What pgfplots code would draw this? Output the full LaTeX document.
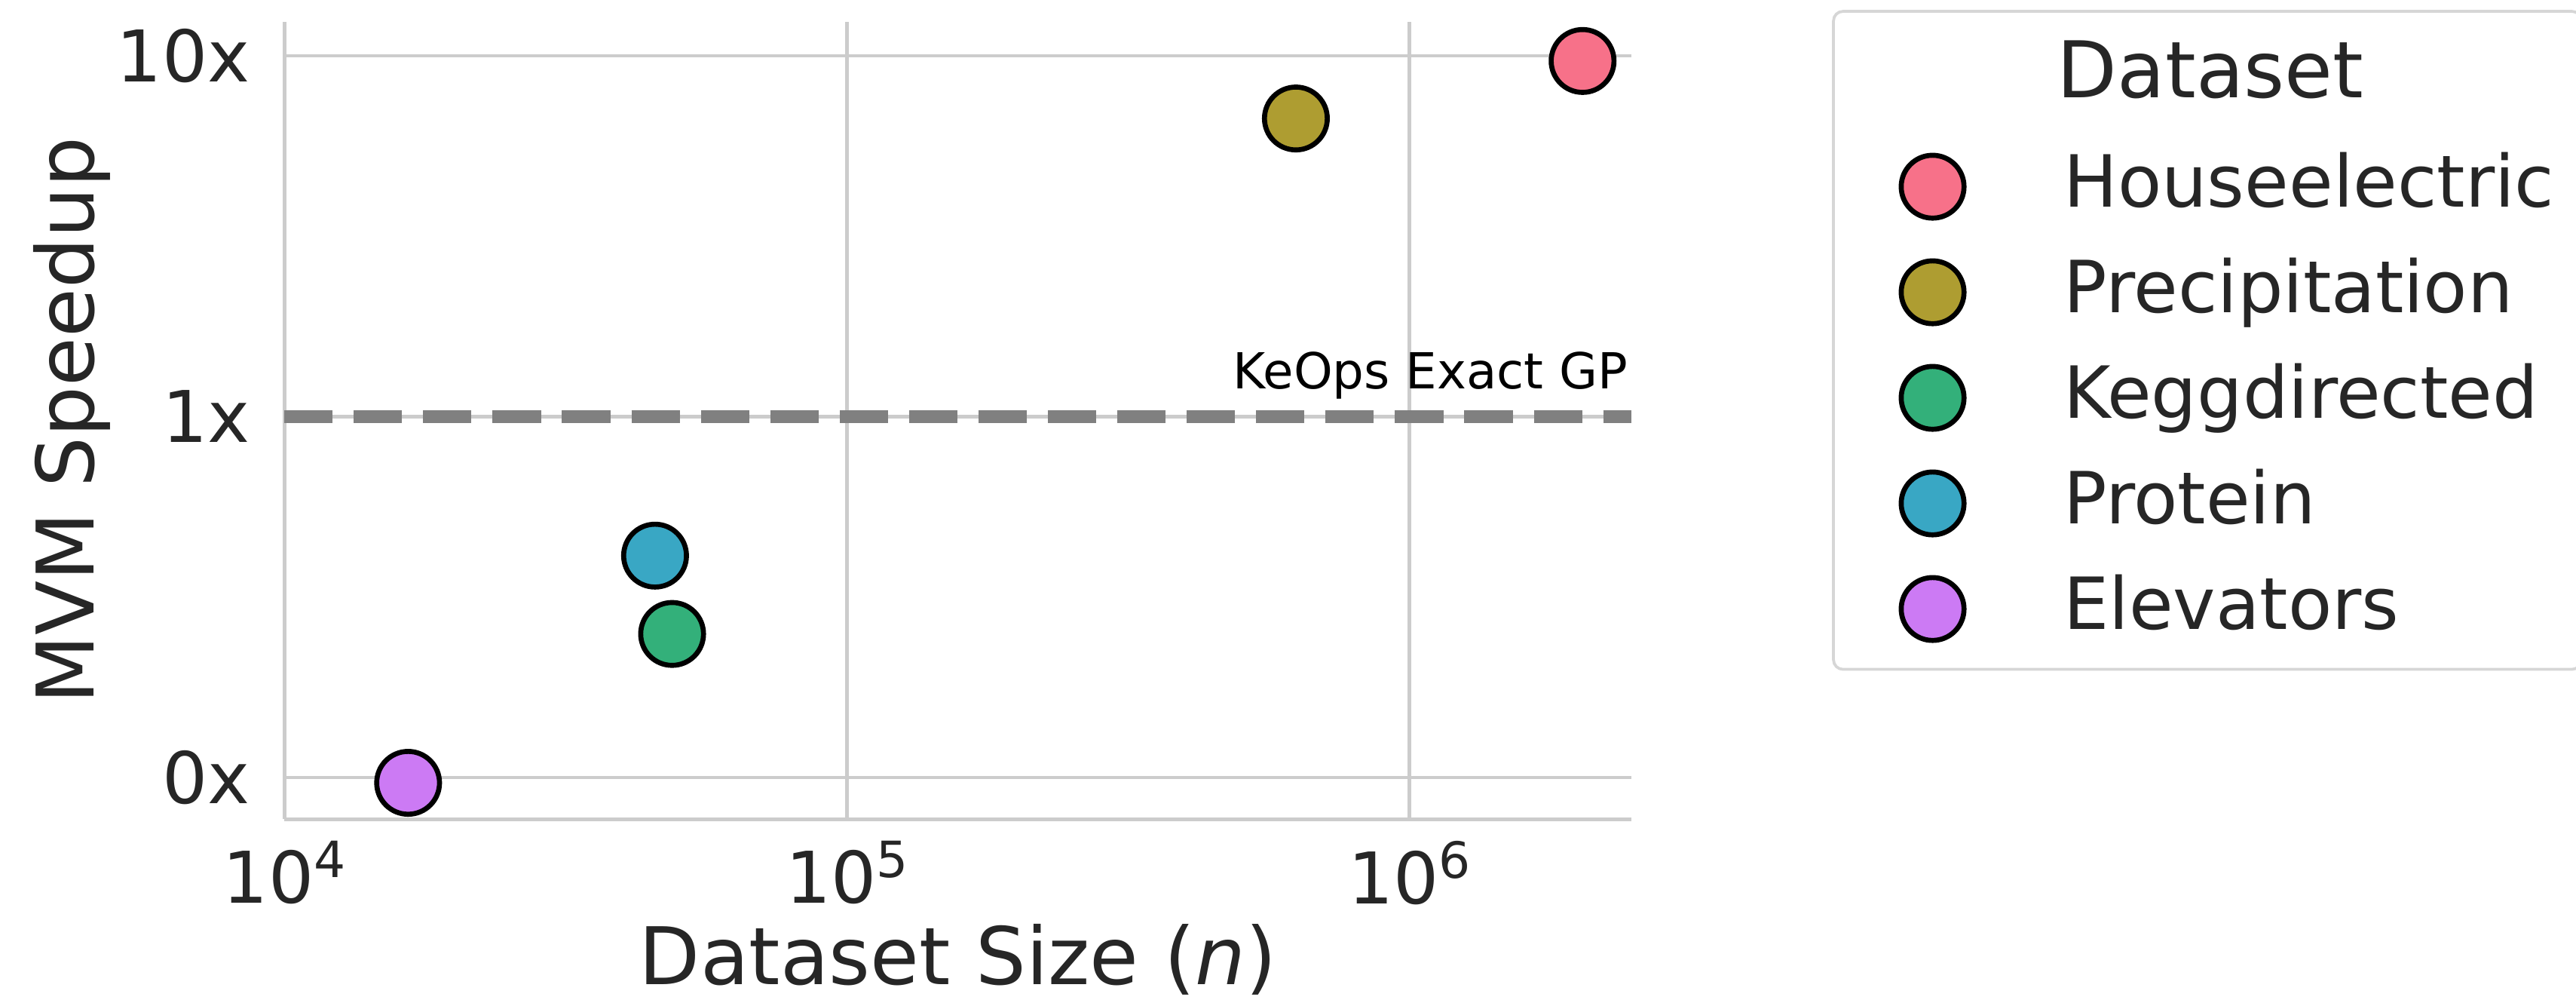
\documentclass[border=0pt]{standalone}
\usepackage{fontspec}
\setmainfont{DejaVu Sans}
\usepackage{pgfplots}
\pgfplotsset{compat=1.18}
\definecolor{cHouse}{HTML}{F77189}
\definecolor{cPrec}{HTML}{AE9D31}
\definecolor{cKegg}{HTML}{33B07A}
\definecolor{cProt}{HTML}{39A7C4}
\definecolor{cElev}{HTML}{CC7AF4}
\definecolor{gridc}{HTML}{CCCCCC}
\definecolor{legc}{HTML}{D6D6D6}
\definecolor{txt}{HTML}{262626}
\definecolor{refline}{HTML}{808080}
\newcommand\tenpow[1]{10\raisebox{8.3pt}{\fontsize{15.9}{16}\selectfont #1}}
\begin{document}
\begin{tikzpicture}
\useasboundingbox (-90.5pt,-58.3pt) rectangle (729.6pt,260.7pt);
\begin{axis}[
  at={(0,0)}, anchor=south west,
  scale only axis, width=428.9pt, height=253.7pt,
  xmode=log, ymode=log,
  xmin=1e4, xmax=2.48e6, ymin=0.0767, ymax=12.4,
  axis x line*=bottom, axis y line*=left,
  axis line style={draw=gridc, line width=1.2pt, -},
  grid=major, major grid style={draw=gridc, line width=1.1pt},
  major tick length=0pt, minor tick length=0pt,
  tick style={draw=none}, minor tick style={draw=none},
  xtick={1e4,1e5,1e6}, xticklabels={\tenpow{4},\tenpow{5},\tenpow{6}},
  ytick={0.1,1,10}, yticklabels={0x,1x,10x},
  tick label style={font=\fontsize{22.7}{27}\selectfont, text=txt},
  xticklabel style={anchor=north, inner sep=0pt, yshift=-6.7pt},
  yticklabel style={anchor=east, inner sep=0pt, xshift=-10.8pt},
  xlabel={Dataset Size (\textit{n})},
  ylabel={MVM Speedup},
  label style={font=\fontsize{25.3}{30}\selectfont, text=txt},
  xlabel style={at={(axis description cs:0.5,0)}, anchor=base, inner sep=0pt, yshift=-52.6pt},
  ylabel style={at={([xshift=-80pt]axis description cs:0,0.5)}, anchor=north, inner sep=0pt},
  clip=false,
  legend cell align=left,
  legend image code/.code={\path (-22.5pt,0pt); \draw[#1] plot coordinates {(0pt,0pt)};},
  legend style={at={(axis description cs:1.1489,1.0151)}, anchor=north west,
    draw=legc, line width=0.9pt, rounded corners=3pt, fill=white,
    font=\fontsize{22.9}{27}\selectfont, text=txt,
    inner xsep=8.6pt, inner ysep=7.7pt, row sep=10.6pt,
    nodes={inner sep=0pt, text height=18pt, text depth=5pt},
    /tikz/every odd column/.append style={column sep=31.7pt}},
]
\addplot[forget plot, draw=refline, line width=4.2pt, dash pattern=on 15.4pt off 6.7pt] coordinates {(1e4,1) (2.48e6,1)};
\node[anchor=base east, inner sep=0pt, font=\fontsize{15.8}{18}\selectfont, text=black, yshift=8.9pt] at (axis cs:2.45e6,1) {KeOps Exact GP};

\addlegendimage{empty legend}
\addlegendentry[font=\fontsize{24.9}{30}\selectfont, text height=19.7pt, text depth=6.3pt]{\hspace*{-2pt}Dataset}

\addplot[only marks, mark=*, mark size=10pt, mark options={fill=cHouse, draw=black, line width=1.6pt}] coordinates {(2.03e6,9.67)};
\addlegendentry{Houseelectric}
\addplot[only marks, mark=*, mark size=10pt, mark options={fill=cPrec, draw=black, line width=1.6pt}] coordinates {(6.28e5,6.70)};
\addlegendentry{Precipitation}
\addplot[only marks, mark=*, mark size=10pt, mark options={fill=cKegg, draw=black, line width=1.6pt}] coordinates {(4.89e4,0.250)};
\addlegendentry{Keggdirected}
\addplot[only marks, mark=*, mark size=10pt, mark options={fill=cProt, draw=black, line width=1.6pt}] coordinates {(4.56e4,0.412)};
\addlegendentry{Protein}
\addplot[only marks, mark=*, mark size=10pt, mark options={fill=cElev, draw=black, line width=1.6pt}] coordinates {(1.66e4,0.0967)};
\addlegendentry{Elevators}
\end{axis}
\end{tikzpicture}
\end{document}
